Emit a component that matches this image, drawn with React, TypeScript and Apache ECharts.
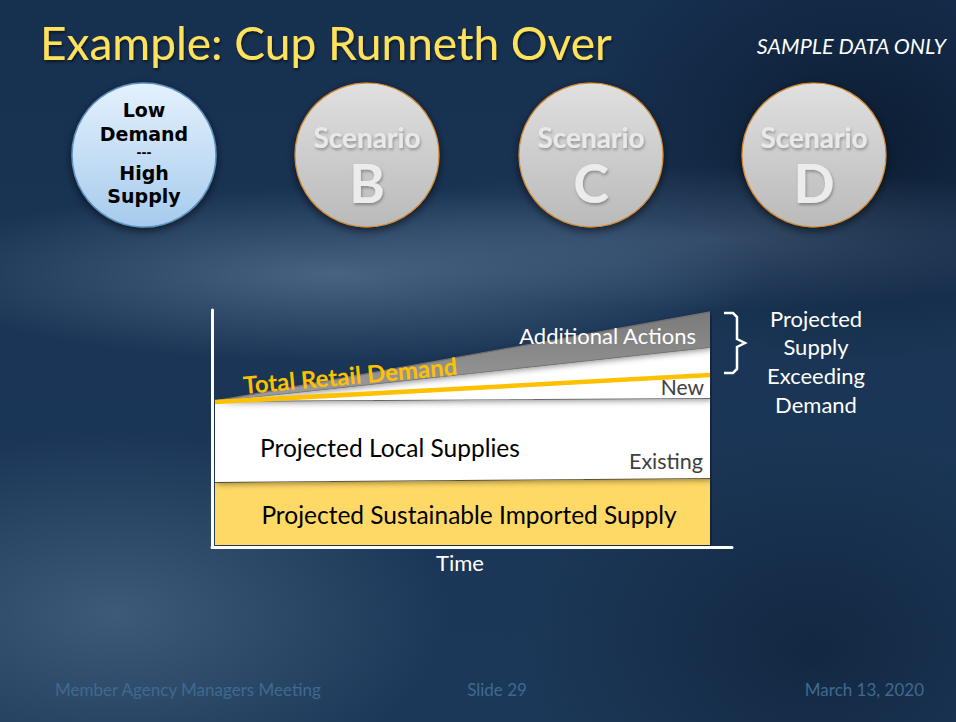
import React, { useEffect, useRef } from "react";
import * as echarts from "echarts";

// ---- data (sample, arbitrary units) ----
const timeLabels = ["Start", "End"];
const importedSupply = [63, 67];
const existingLocal = [81, 80];
const newLocal = [0, 51];
const additionalActions = [0, 35];
const totalDemand = [143, 170];

const scenarioLetters = ["B", "C", "D"];
const scenarioCenters = [367, 591, 814];
const activeScenarioLines = ["Low", "Demand", "---", "High", "Supply"];
const activeScenarioY = [110, 133.5, 153, 172.5, 195.5];
const activeScenarioSize = [19, 19, 12, 19, 19];
const sideNote = ["Projected", "Supply", "Exceeding", "Demand"];
const footer = ["Member Agency Managers Meeting", "Slide 29", "March 13, 2020"];

const FONT = "Lato, 'Open Sans', sans-serif";

function txt(x: number, y: number, text: string, size: number, fill: string, opts: any = {}) {
  const align = opts.align || "left";
  return {
    type: "text",
    x,
    y,
    rotation: opts.rotation || 0,
    z: 100,
    style: {
      text,
      fill,
      fontSize: size,
      fontFamily: opts.fontFamily || FONT,
      fontWeight: opts.weight || "normal",
      fontStyle: opts.italic ? "italic" : "normal",
      align,
      textAlign: align,
      verticalAlign: "middle",
      textVerticalAlign: "middle",
      lineHeight: opts.lineHeight,
      textShadowColor: opts.shadow ? opts.shadow : undefined,
      textShadowBlur: opts.shadow ? 3 : 0,
      textShadowOffsetY: opts.shadow ? 2 : 0,
      textShadowOffsetX: opts.shadow ? 1 : 0,
    },
  };
}

export default function App() {
  const ref = useRef<HTMLDivElement>(null);

  useEffect(() => {
    if (!ref.current) return;
    const chart = echarts.init(ref.current, undefined, { renderer: "svg" });

    const areaBase = (name: string, data: number[], color: any, z: number, line = "#4a4a4a") => ({
      name,
      type: "line",
      stack: "supply",
      xAxisIndex: 0,
      yAxisIndex: 0,
      data,
      symbol: "none",
      z,
      lineStyle: { color: line, width: 1.3 },
      areaStyle: {
        color,
        opacity: 1,
        shadowColor: "rgba(0,0,0,0.45)",
        shadowBlur: 6,
        shadowOffsetX: 2,
        shadowOffsetY: 2,
      },
    });

    const graphics: any[] = [];

    // Title
    graphics.push(
      txt(40, 42, "Example: Cup Runneth Over", 46, "#ffe25c", { shadow: "rgba(0,0,0,0.55)" })
    );
    graphics.push(txt(946, 46, "SAMPLE DATA ONLY", 21.5, "#ffffff", { align: "right", italic: true }));

    // Active scenario circle
    graphics.push({
      type: "circle",
      z: 50,
      shape: { cx: 144, cy: 155, r: 72 },
      style: {
        fill: {
          type: "linear",
          x: 0,
          y: 0,
          x2: 0,
          y2: 1,
          colorStops: [
            { offset: 0, color: "#e4f1fd" },
            { offset: 1, color: "#a6cbed" },
          ],
        },
        stroke: "#5e93bf",
        lineWidth: 1.5,
        shadowColor: "rgba(0,0,0,0.6)",
        shadowBlur: 8,
        shadowOffsetY: 3,
      },
    });
    activeScenarioLines.forEach((line, i) => {
      graphics.push(
        txt(144, activeScenarioY[i], line, activeScenarioSize[i], "#000000", {
          align: "center",
          weight: "bold",
          fontFamily: "'DejaVu Sans', sans-serif",
        })
      );
    });

    // Inactive scenario circles
    scenarioLetters.forEach((letter, i) => {
      const cx = scenarioCenters[i];
      graphics.push({
        type: "circle",
        z: 50,
        shape: { cx, cy: 155, r: 72 },
        style: {
          fill: {
            type: "linear",
            x: 0,
            y: 0,
            x2: 0,
            y2: 1,
            colorStops: [
              { offset: 0, color: "#e0e0e0" },
              { offset: 1, color: "#bababa" },
            ],
          },
          stroke: "#d88a2c",
          lineWidth: 1.2,
          shadowColor: "rgba(0,0,0,0.6)",
          shadowBlur: 8,
          shadowOffsetY: 3,
        },
      });
      graphics.push(
        txt(cx, 137, "Scenario", 28, "#e9e9e9", { align: "center", weight: "bold", shadow: "rgba(0,0,0,0.3)" })
      );
      graphics.push(
        txt(cx, 182, letter, 54, "#ececec", { align: "center", weight: "bold", shadow: "rgba(0,0,0,0.3)" })
      );
    });

    // Chart labels
    graphics.push(
      txt(350, 375, "Total Retail Demand", 24, "#ffc000", {
        align: "center",
        weight: "bold",
        rotation: 0.09,
      })
    );
    graphics.push(txt(696, 335, "Additional Actions", 22, "#ffffff", { align: "right" }));
    graphics.push(txt(704, 386, "New", 21, "#404040", { align: "right" }));
    graphics.push(txt(703, 461, "Existing", 21.5, "#404040", { align: "right" }));
    graphics.push(txt(260, 447, "Projected Local Supplies", 24.5, "#000000"));
    graphics.push(
      txt(469, 514, "Projected Sustainable Imported Supply", 24.5, "#000000", { align: "center" })
    );

    // Brace
    graphics.push({
      type: "polyline",
      z: 100,
      shape: {
        points: [
          [724, 313],
          [733, 313],
          [737, 317],
          [737, 339],
          [745, 343],
          [737, 347],
          [737, 369],
          [733, 373],
          [724, 373],
        ],
      },
      style: { stroke: "#ffffff", lineWidth: 2.5, fill: null },
    });
    sideNote.forEach((line, i) => {
      graphics.push(txt(816, 318 + i * 28.7, line, 22, "#ffffff", { align: "center", lineHeight: 24 }));
    });

    // Footer
    graphics.push(txt(55, 689, footer[0], 17, "#3e6a90"));
    graphics.push(txt(497, 689, footer[1], 17, "#3e6a90", { align: "center" }));
    graphics.push(txt(924, 689, footer[2], 17, "#3e6a90", { align: "right" }));

    const hiddenAxis = {
      axisLine: { show: false },
      axisTick: { show: false },
      axisLabel: { show: false },
      splitLine: { show: false },
    };
    const frameLine = {
      axisLine: { show: true, lineStyle: { color: "#ffffff", width: 3 } },
      axisTick: { show: false },
      axisLabel: { show: false },
      splitLine: { show: false },
    };

    chart.setOption({
      animation: false,
      backgroundColor: "transparent",
      grid: [
        { left: 215, right: 246, top: 310, bottom: 177, containLabel: false },
        { left: 212, right: 224, top: 310, bottom: 175, containLabel: false },
      ],
      xAxis: [
        { type: "category", gridIndex: 0, data: timeLabels, boundaryGap: false, ...hiddenAxis },
        {
          type: "value",
          gridIndex: 1,
          min: 0,
          max: 1,
          ...frameLine,
          name: "Time",
          nameLocation: "middle",
          nameGap: 4,
          nameTextStyle: {
            color: "#ffffff",
            fontSize: 22,
            fontFamily: FONT,
            padding: [0, 24, 0, 0],
          },
        },
      ],
      yAxis: [
        { type: "value", gridIndex: 0, min: 0, max: 235, ...hiddenAxis },
        { type: "value", gridIndex: 1, min: 0, max: 1, ...frameLine },
      ],
      series: [
        areaBase("Projected Sustainable Imported Supply", importedSupply, "#ffd966", 2, "#3f3f3f"),
        areaBase("Existing Local Supplies", existingLocal, "#ffffff", 3, "#555555"),
        areaBase("New Local Supplies", newLocal, "#ffffff", 4, "#8a8a8a"),
        areaBase(
          "Additional Actions",
          additionalActions,
          {
            type: "linear",
            x: 0,
            y: 0,
            x2: 0,
            y2: 1,
            colorStops: [
              { offset: 0, color: "#7a7a7a" },
              { offset: 1, color: "#9c9c9c" },
            ],
          },
          5,
          "#6f6f6f"
        ),
        {
          name: "Total Retail Demand",
          type: "line",
          xAxisIndex: 0,
          yAxisIndex: 0,
          data: totalDemand,
          symbol: "none",
          z: 10,
          lineStyle: { color: "#ffc000", width: 4.5 },
        },
      ],
      graphic: graphics,
    });

    return () => chart.dispose();
  }, []);

  return (
    <div
      ref={ref}
      style={{
        position: "absolute",
        left: 0,
        top: 0,
        width: 956,
        height: 722,
        background: [
          "radial-gradient(ellipse 45% 12% at 35% 38%, rgba(130,155,185,0.45), rgba(130,155,185,0) 100%)",
          "radial-gradient(ellipse 40% 10% at 75% 33%, rgba(110,135,165,0.35), rgba(110,135,165,0) 100%)",
          "radial-gradient(ellipse 35% 25% at 12% 85%, rgba(95,125,155,0.5), rgba(95,125,155,0) 100%)",
          "radial-gradient(ellipse 30% 30% at 90% 20%, rgba(5,15,30,0.6), rgba(5,15,30,0) 100%)",
          "radial-gradient(ellipse 30% 30% at 85% 90%, rgba(10,25,45,0.5), rgba(10,25,45,0) 100%)",
          "linear-gradient(180deg, #16305180 0%, #1a3555 50%, #1c3858 100%)",
          "#173050",
        ].join(","),
      }}
    />
  );
}
